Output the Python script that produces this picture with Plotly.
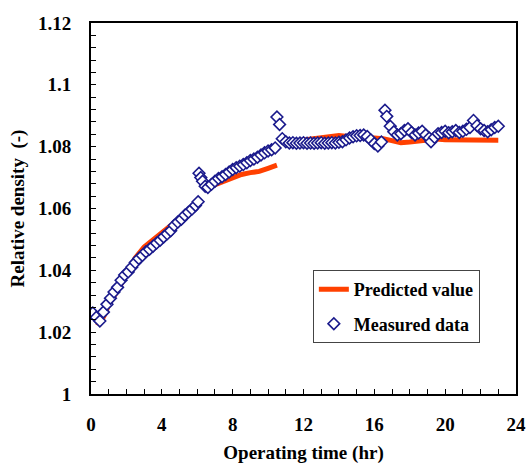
import plotly.graph_objects as go

# Measured data (operating time hr, relative density)
meas_t = [0.1, 0.3, 0.5, 0.7, 0.9, 1.1, 1.3, 1.5, 1.7, 1.9, 2.1, 2.3, 2.5, 2.7, 2.9,
          3.1, 3.3, 3.5, 3.7, 3.9, 4.1, 4.3, 4.5, 4.7, 4.9, 5.1, 5.3, 5.5, 5.7, 5.9, 6.05,
          6.1, 6.2, 6.3, 6.45, 6.6, 6.8, 7.0, 7.2, 7.4, 7.6, 7.8, 8.0, 8.2, 8.4, 8.6, 8.8,
          9.0, 9.2, 9.4, 9.6, 9.8, 10.0, 10.2, 10.4, 10.5, 10.65, 10.8, 11.0,
          11.2, 11.4, 11.6, 11.8, 12.0, 12.2, 12.4, 12.6, 12.8, 13.0, 13.2, 13.4, 13.6, 13.8,
          14.0, 14.2, 14.4, 14.6, 14.8, 15.0, 15.2, 15.4, 15.6, 15.8, 16.0, 16.2, 16.4,
          16.6, 16.7, 16.9, 17.1, 17.3, 17.5, 17.7, 17.9, 18.1, 18.3, 18.5, 18.7, 18.9,
          19.1, 19.2, 19.4, 19.6, 19.8, 20.0, 20.2, 20.4, 20.6, 20.8, 21.0, 21.2, 21.4,
          21.6, 21.8, 22.0, 22.2, 22.4, 22.6, 22.8, 23.0]
meas_v = [1.0262, 1.0248, 1.0236, 1.0265, 1.0290, 1.0310, 1.0330, 1.0345, 1.0368, 1.0385,
          1.0395, 1.0410, 1.0425, 1.0438, 1.0448, 1.0460, 1.0468, 1.0478, 1.0488, 1.0497,
          1.0508, 1.0518, 1.0528, 1.0545, 1.0556, 1.0565, 1.0578, 1.0588, 1.0598, 1.0610, 1.0622,
          1.0714, 1.0700, 1.0688, 1.0672, 1.0668, 1.0678, 1.0688, 1.0697, 1.0703, 1.0710,
          1.0718, 1.0726, 1.0732, 1.0737, 1.0742, 1.0748, 1.0755, 1.0760, 1.0766, 1.0773,
          1.0780, 1.0786, 1.0790, 1.0796, 1.0896, 1.0872, 1.0826, 1.0816,
          1.0812, 1.0813, 1.0811, 1.0812, 1.0813, 1.0811, 1.0812, 1.0811, 1.0812, 1.0813,
          1.0811, 1.0812, 1.0813, 1.0812, 1.0814, 1.0816, 1.0822, 1.0828, 1.0832, 1.0835,
          1.0836, 1.0838, 1.0833, 1.0822, 1.0810, 1.0802, 1.0815,
          1.0918, 1.0898, 1.0866, 1.0848, 1.0838, 1.0842, 1.0852, 1.0858, 1.0846, 1.0838,
          1.0844, 1.0850, 1.0838, 1.0828, 1.0816, 1.0830, 1.0842, 1.0846, 1.0850, 1.0845,
          1.0848, 1.0852, 1.0846, 1.0850, 1.0856, 1.0862, 1.0885, 1.0868, 1.0858, 1.0852,
          1.0848, 1.0855, 1.0862, 1.0866]

# Predicted value (None separates the three simulated segments)
pred_t = [0.3, 0.5, 0.8, 1.0, 1.5, 2.0, 2.5, 3.0, 3.5, 4.0, 4.5, 5.0, 5.5, 5.9, None,
          6.5, 7.0, 7.5, 8.0, 8.5, 9.0, 9.5, 10.0, 10.5, None,
          10.8, 11.0, 12.0, 13.0, 13.5, 14.0, 14.5, 15.0, 16.0, 16.5, 17.0, 17.5, 18.0,
          19.0, 19.5, 20.0, 21.0, 22.0, 23.0]
pred_v = [1.0232, 1.0228, 1.0260, 1.0290, 1.0335, 1.0390, 1.0440, 1.0475, 1.0500, 1.0525,
          1.0545, 1.0560, 1.0580, 1.0600, None,
          1.0666, 1.0678, 1.0690, 1.0700, 1.0710, 1.0716, 1.0720, 1.0730, 1.0740, None,
          1.0812, 1.0815, 1.0822, 1.0830, 1.0836, 1.0836, 1.0833, 1.0830, 1.0828, 1.0826,
          1.0818, 1.0813, 1.0815, 1.0820, 1.0825, 1.0822, 1.0821, 1.0821, 1.0821]

x_tickvals = [0, 4, 8, 12, 16, 20, 24]
x_ticktext = ["0", "4", "8", "12", "16", "20", "24"]
y_tickvals = [1.0, 1.02, 1.04, 1.06, 1.08, 1.1, 1.12]
y_ticktext = ["1", "1.02", "1.04", "1.06", "1.08", "1.1", "1.12"]

FONT = "'Times New Roman', 'Liberation Serif', 'DejaVu Serif', serif"

fig = go.Figure()
fig.add_trace(go.Scatter(
    x=pred_t, y=pred_v, mode="lines", name="Predicted value",
    line=dict(color="#FF4000", width=5), connectgaps=False,
    legendgroup="a"))
fig.add_trace(go.Scatter(
    x=meas_t, y=meas_v, mode="markers", name="Measured data",
    marker=dict(symbol="diamond", size=9, color="white",
                line=dict(color="#1A1A8C", width=1.6)),
    legendgroup="b"))

fig.update_layout(
    width=527, height=464,
    margin=dict(l=91, r=11, t=23, b=70, autoexpand=False),
    paper_bgcolor="white", plot_bgcolor="white",
    font=dict(family=FONT, color="black"),
    showlegend=True,
    legend=dict(
        x=0.522, y=0.334, xanchor="left", yanchor="top",
        bordercolor="#444444", borderwidth=1, bgcolor="white",
        font=dict(family=FONT, size=18, color="black", weight="bold"),
        traceorder="grouped", tracegroupgap=8,
    ),
    xaxis=dict(
        range=[0, 24], tickvals=x_tickvals, ticktext=x_ticktext,
        showgrid=False, zeroline=False, automargin=False,
        showline=True, linecolor="black", linewidth=2, mirror=True,
        ticks="inside", ticklen=5, tickwidth=1, tickcolor="black",
        minor=dict(dtick=1, ticks="inside", ticklen=5, tickcolor="black", tickwidth=1),
        tickfont=dict(family=FONT, size=19, weight="bold"),
        ticklabelstandoff=12,
        title=dict(text="Operating time (hr)", font=dict(family=FONT, size=19, weight="bold"), standoff=14),
    ),
    yaxis=dict(
        range=[1.0, 1.12], tickvals=y_tickvals, ticktext=y_ticktext,
        showgrid=False, zeroline=False, automargin=False,
        showline=True, linecolor="black", linewidth=2, mirror=True,
        ticks="inside", ticklen=5, tickwidth=1, tickcolor="black",
        minor=dict(dtick=0.004, tick0=1.0, ticks="inside", ticklen=5, tickcolor="black", tickwidth=1),
        tickfont=dict(family=FONT, size=19, weight="bold"),
        ticklabelstandoff=14,
        title=dict(text="Relative density  (-)", font=dict(family=FONT, size=19, weight="bold"), standoff=8),
    ),
)

fig.write_html("out.html", config={"displayModeBar": False},
               post_script="document.body.style.margin='0px';")
